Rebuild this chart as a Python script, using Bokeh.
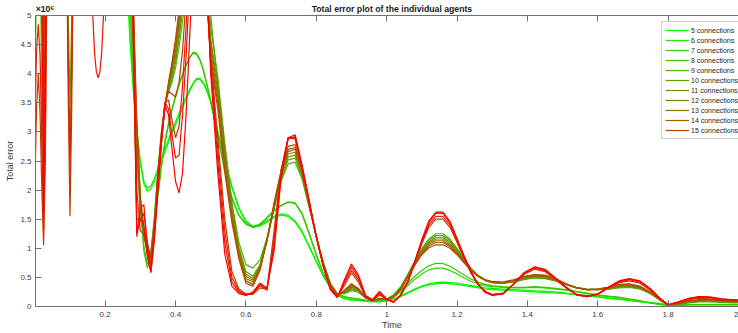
from bokeh.plotting import figure
from bokeh.models import Range1d, LinearAxis, FixedTicker
from bokeh.embed import file_html
from bokeh.resources import INLINE

# ---------------- data ----------------
time = [
    0.0, 0.005, 0.01, 0.015, 0.02, 0.025, 0.03, 0.035, 0.04,
    0.06, 0.08, 0.09, 0.095, 0.10, 0.105, 0.11, 0.12,
    0.16, 0.17, 0.175, 0.18, 0.185, 0.19, 0.20,
    0.24, 0.26, 0.27, 0.28, 0.29,
    0.30, 0.31, 0.32, 0.33, 0.34, 0.35, 0.36, 0.37, 0.38, 0.39, 0.40,
    0.41, 0.42, 0.43, 0.44, 0.45, 0.46, 0.47, 0.48, 0.49, 0.50,
    0.52, 0.54, 0.56, 0.58, 0.60, 0.62, 0.64, 0.66, 0.68, 0.70,
    0.72, 0.74, 0.76, 0.78, 0.80, 0.82, 0.84, 0.86, 0.88, 0.90,
    0.92, 0.94, 0.96, 0.98, 1.00, 1.02, 1.04, 1.06, 1.08, 1.10,
    1.12, 1.14, 1.16, 1.18, 1.20, 1.22, 1.24, 1.26, 1.28, 1.30,
    1.33, 1.36, 1.39, 1.42, 1.45, 1.48, 1.51, 1.54, 1.57, 1.60,
    1.63, 1.66, 1.69, 1.72, 1.75, 1.78,
    1.80, 1.83, 1.86, 1.89, 1.92, 1.95, 1.98, 2.00,
]

# total error (x 1e6) per number of connections
conn05 = [6.0, 8, 8, 8, 6.5, 3.5, 6.0, 8, 8,
          8, 8, 8, 8, 8, 8, 8, 8,
          8, 8, 8, 8, 8, 8, 8,
          8, 6.0, 4.6, 3.7, 3.0,
          2.45, 2.1, 1.98, 2.02, 2.15, 2.32, 2.5, 2.66, 2.82, 2.97, 3.12, 3.27, 3.42, 3.56, 3.7, 3.82, 3.9, 3.9, 3.82, 3.68, 3.5,
          3.0, 2.5, 2.05, 1.68, 1.45, 1.36, 1.38, 1.45, 1.53, 1.57, 1.55, 1.45, 1.27, 1.02, 0.77, 0.52, 0.32, 0.19, 0.13, 0.11,
          0.1, 0.09, 0.08, 0.08, 0.09, 0.12, 0.17, 0.23, 0.29, 0.34, 0.37, 0.39, 0.4, 0.39, 0.38, 0.36, 0.34, 0.32, 0.3, 0.29,
          0.28, 0.27, 0.26, 0.25, 0.24, 0.23, 0.22, 0.2, 0.18, 0.16, 0.14, 0.12, 0.1, 0.08, 0.06, 0.04,
          0.03, 0.03, 0.03, 0.03, 0.03, 0.03, 0.03, 0.03]
conn06 = [6.0, 8, 8, 8, 6.0, 3.2, 6.5, 8, 8,
          8, 8, 8, 8, 8, 8, 8, 8,
          8, 8, 8, 8, 8, 8, 8,
          8, 6.2, 4.7, 3.8, 3.05,
          2.5, 2.15, 2.03, 2.07, 2.2, 2.37, 2.55, 2.71, 2.87, 3.02, 3.17, 3.32, 3.47, 3.6, 3.73, 3.84, 3.92, 3.92, 3.84, 3.7, 3.52,
          3.02, 2.52, 2.07, 1.7, 1.47, 1.38, 1.4, 1.47, 1.55, 1.59, 1.57, 1.47, 1.29, 1.04, 0.78, 0.53, 0.33, 0.2, 0.14, 0.12,
          0.11, 0.1, 0.09, 0.09, 0.1, 0.13, 0.18, 0.24, 0.3, 0.35, 0.39, 0.41, 0.42, 0.41, 0.4, 0.38, 0.36, 0.34, 0.32, 0.31,
          0.3, 0.29, 0.28, 0.27, 0.26, 0.25, 0.23, 0.21, 0.19, 0.17, 0.15, 0.13, 0.11, 0.09, 0.07, 0.05,
          0.03, 0.03, 0.03, 0.03, 0.03, 0.03, 0.03, 0.03]
conn07 = [5.5, 8, 8, 8, 5.5, 2.6, 5.5, 8, 8,
          8, 8, 8, 8, 8, 8, 8, 8,
          8, 8, 8, 8, 8, 8, 8,
          8, 6.5, 5.3, 4.0, 2.8,
          1.8, 1.05, 0.72, 0.92, 1.42, 1.95, 2.45, 2.85, 3.15, 3.4, 3.62, 3.82, 4.0, 4.15, 4.28, 4.35, 4.33, 4.22, 4.03, 3.78, 3.52,
          2.92, 2.32, 1.86, 1.56, 1.41, 1.37, 1.42, 1.53, 1.65, 1.74, 1.79, 1.77, 1.58, 1.24, 0.88, 0.56, 0.33, 0.21, 0.16, 0.14,
          0.12, 0.1, 0.09, 0.09, 0.11, 0.16, 0.25, 0.36, 0.47, 0.56, 0.63, 0.66, 0.66, 0.62, 0.56, 0.49, 0.43, 0.39, 0.36, 0.34,
          0.33, 0.32, 0.32, 0.33, 0.32, 0.3, 0.28, 0.25, 0.22, 0.19, 0.17, 0.15, 0.12, 0.09, 0.06, 0.03,
          0.02, 0.02, 0.03, 0.03, 0.03, 0.03, 0.03, 0.03]
conn08 = [5.5, 8, 8, 8, 5.0, 2.2, 5.0, 8, 8,
          8, 8, 8, 8, 8, 8, 8, 8,
          8, 8, 8, 8, 8, 8, 8,
          8, 6.4, 5.2, 3.9, 2.7,
          1.7, 0.95, 0.66, 0.86, 1.36, 1.9, 2.4, 2.8, 3.12, 3.38, 3.6, 3.8, 3.98, 4.14, 4.27, 4.37, 4.35, 4.24, 4.05, 3.8, 3.54,
          2.95, 2.35, 1.88, 1.57, 1.42, 1.36, 1.4, 1.51, 1.64, 1.73, 1.8, 1.78, 1.6, 1.26, 0.9, 0.57, 0.34, 0.22, 0.17, 0.15,
          0.13, 0.11, 0.1, 0.1, 0.12, 0.18, 0.28, 0.4, 0.52, 0.62, 0.7, 0.74, 0.74, 0.69, 0.62, 0.54, 0.47, 0.42, 0.38, 0.36,
          0.34, 0.33, 0.33, 0.34, 0.33, 0.31, 0.29, 0.26, 0.23, 0.2, 0.18, 0.16, 0.13, 0.1, 0.06, 0.03,
          0.02, 0.02, 0.03, 0.03, 0.03, 0.03, 0.03, 0.03]
conn09 = [3.2, 6.0, 8, 7.0, 3.0, 1.75, 4.5, 8, 8,
          8, 8, 6.5, 4.2, 2.9, 4.0, 6.0, 8,
          8, 8, 8, 8, 8, 8, 8,
          8, 7.5, 6.0, 4.3, 2.6,
          1.6, 1.2, 0.95, 0.95, 1.55, 2.35, 3.0, 3.45, 3.68, 3.85, 4.1, 4.45, 4.9, 5.4, 6.0, 6.5, 6.8, 6.6, 6.2, 5.6, 5.0,
          3.8, 2.75, 1.8, 1.1, 0.72, 0.66, 0.8, 1.18, 1.68, 2.15, 2.45, 2.48, 2.18, 1.7, 1.2, 0.76, 0.4, 0.22, 0.22, 0.27,
          0.24, 0.15, 0.11, 0.12, 0.13, 0.2, 0.34, 0.55, 0.78, 1.0, 1.16, 1.25, 1.25, 1.16, 1.0, 0.82, 0.66, 0.54, 0.46, 0.42,
          0.4, 0.42, 0.46, 0.49, 0.48, 0.44, 0.38, 0.33, 0.3, 0.29, 0.3, 0.32, 0.33, 0.3, 0.22, 0.1,
          0.03, 0.03, 0.06, 0.08, 0.08, 0.07, 0.06, 0.06]
conn10 = [6.5, 8, 8, 8, 5.0, 2.4, 5.0, 8, 8,
          8, 8, 7.0, 5.0, 3.5, 5.0, 7.0, 8,
          8, 8, 8, 8, 8, 8, 8,
          8, 7.8, 6.2, 4.4, 2.7,
          1.65, 1.22, 0.98, 0.9, 1.5, 2.3, 2.95, 3.45, 3.72, 3.92, 4.2, 4.6, 5.1, 5.6, 6.2, 6.7, 7.0, 6.8, 6.2, 5.5, 4.8,
          3.95, 2.8, 1.78, 1.02, 0.6, 0.52, 0.72, 1.15, 1.68, 2.18, 2.52, 2.55, 2.22, 1.72, 1.2, 0.75, 0.4, 0.21, 0.23, 0.29,
          0.26, 0.15, 0.1, 0.12, 0.12, 0.19, 0.33, 0.54, 0.77, 0.98, 1.14, 1.22, 1.22, 1.14, 0.98, 0.8, 0.65, 0.53, 0.45, 0.41,
          0.4, 0.42, 0.47, 0.5, 0.49, 0.44, 0.38, 0.32, 0.29, 0.29, 0.3, 0.33, 0.34, 0.31, 0.22, 0.1,
          0.03, 0.04, 0.07, 0.09, 0.09, 0.08, 0.07, 0.07]
conn11 = [7.0, 8, 8, 8, 6.0, 2.8, 5.5, 8, 8,
          8, 8, 8, 8, 8, 8, 8, 8,
          8, 8, 8, 8, 8, 8, 8,
          8, 8, 6.4, 4.6, 2.8,
          1.7, 1.25, 1.0, 0.88, 1.45, 2.25, 2.92, 3.45, 3.75, 3.98, 4.28, 4.7, 5.2, 5.7, 6.3, 6.8, 7.0, 6.8, 6.2, 5.4, 4.6,
          3.8, 2.7, 1.7, 0.98, 0.56, 0.48, 0.7, 1.14, 1.7, 2.22, 2.57, 2.6, 2.25, 1.73, 1.2, 0.74, 0.39, 0.2, 0.24, 0.31,
          0.27, 0.15, 0.1, 0.12, 0.12, 0.18, 0.32, 0.53, 0.76, 0.96, 1.11, 1.19, 1.19, 1.11, 0.96, 0.79, 0.64, 0.52, 0.45, 0.41,
          0.4, 0.43, 0.48, 0.51, 0.5, 0.45, 0.38, 0.32, 0.29, 0.29, 0.31, 0.34, 0.35, 0.31, 0.23, 0.1,
          0.03, 0.04, 0.08, 0.1, 0.1, 0.09, 0.08, 0.08]
conn12 = [7.0, 8, 8, 8, 6.5, 3.0, 6.0, 8, 8,
          8, 8, 8, 8, 8, 8, 8, 8,
          8, 8, 8, 8, 8, 8, 8,
          8, 8, 6.6, 4.7, 2.9,
          1.75, 1.28, 1.02, 0.86, 1.4, 2.2, 2.9, 3.45, 3.78, 4.05, 4.35, 4.8, 5.3, 5.8, 6.4, 6.9, 7.1, 6.9, 6.2, 5.3, 4.5,
          3.7, 2.6, 1.62, 0.94, 0.52, 0.45, 0.68, 1.14, 1.72, 2.25, 2.62, 2.65, 2.28, 1.74, 1.2, 0.73, 0.38, 0.2, 0.25, 0.33,
          0.28, 0.15, 0.1, 0.13, 0.12, 0.18, 0.31, 0.52, 0.75, 0.95, 1.09, 1.16, 1.16, 1.08, 0.94, 0.78, 0.63, 0.52, 0.45, 0.41,
          0.4, 0.43, 0.49, 0.52, 0.51, 0.45, 0.38, 0.32, 0.29, 0.3, 0.32, 0.35, 0.36, 0.32, 0.23, 0.1,
          0.03, 0.05, 0.08, 0.1, 0.1, 0.09, 0.08, 0.08]
conn13 = [7.5, 8, 8, 8, 7.0, 3.4, 6.5, 8, 8,
          8, 8, 8, 8, 8, 8, 8, 8,
          8, 8, 8, 8, 8, 8, 8,
          8, 8, 6.8, 4.8, 3.0,
          1.8, 1.3, 1.04, 0.85, 1.35, 2.15, 2.88, 3.45, 3.8, 4.1, 4.42, 4.9, 5.4, 5.9, 6.5, 7.0, 7.2, 7.0, 6.3, 5.3, 4.4,
          3.6, 2.5, 1.56, 0.9, 0.48, 0.42, 0.66, 1.14, 1.74, 2.28, 2.66, 2.7, 2.3, 1.75, 1.2, 0.72, 0.37, 0.2, 0.26, 0.35,
          0.29, 0.15, 0.1, 0.13, 0.12, 0.17, 0.3, 0.51, 0.74, 0.93, 1.07, 1.13, 1.13, 1.05, 0.92, 0.77, 0.63, 0.52, 0.45, 0.42,
          0.41, 0.44, 0.5, 0.53, 0.52, 0.46, 0.38, 0.32, 0.29, 0.3, 0.32, 0.36, 0.37, 0.33, 0.24, 0.1,
          0.03, 0.05, 0.09, 0.11, 0.11, 0.1, 0.09, 0.08]
conn14 = [8, 8, 8, 8, 7.5, 3.8, 7.0, 8, 8,
          8, 8, 8, 8, 8, 8, 8, 8,
          8, 8, 8, 8, 8, 8, 8,
          8, 8, 7.0, 5.0, 3.1,
          1.85, 1.32, 1.06, 0.84, 1.3, 2.1, 2.85, 3.45, 3.82, 4.15, 4.5, 5.0, 5.5, 6.0, 6.6, 7.1, 7.3, 7.1, 6.3, 5.2, 4.3,
          3.5, 2.4, 1.5, 0.86, 0.44, 0.38, 0.64, 1.14, 1.76, 2.3, 2.7, 2.73, 2.32, 1.76, 1.2, 0.71, 0.36, 0.19, 0.27, 0.37,
          0.3, 0.15, 0.1, 0.14, 0.12, 0.17, 0.3, 0.5, 0.72, 0.91, 1.04, 1.1, 1.1, 1.03, 0.91, 0.76, 0.62, 0.52, 0.46, 0.42,
          0.41, 0.45, 0.51, 0.54, 0.53, 0.47, 0.39, 0.32, 0.29, 0.3, 0.33, 0.37, 0.38, 0.34, 0.24, 0.11,
          0.03, 0.05, 0.09, 0.11, 0.11, 0.1, 0.09, 0.09]
conn15 = [8, 8, 8, 8, 8, 4.2, 7.5, 8, 8,
          8, 8, 8, 8, 8, 8, 8, 8,
          8, 8, 8, 8, 8, 8, 8,
          8, 8, 7.2, 5.2, 3.2,
          1.9, 1.35, 1.08, 0.82, 1.25, 2.05, 2.82, 3.45, 3.85, 4.2, 4.6, 5.1, 5.6, 6.1, 6.7, 7.2, 7.4, 7.2, 6.4, 5.2, 4.2,
          3.4, 2.3, 1.45, 0.82, 0.4, 0.35, 0.62, 1.14, 1.78, 2.34, 2.75, 2.78, 2.35, 1.78, 1.2, 0.7, 0.35, 0.19, 0.28, 0.39,
          0.31, 0.15, 0.1, 0.14, 0.12, 0.16, 0.29, 0.49, 0.71, 0.89, 1.01, 1.06, 1.06, 1.0, 0.89, 0.75, 0.62, 0.52, 0.46, 0.43,
          0.42, 0.46, 0.52, 0.55, 0.54, 0.48, 0.39, 0.32, 0.29, 0.3, 0.33, 0.38, 0.39, 0.35, 0.25, 0.11,
          0.03, 0.06, 0.1, 0.12, 0.12, 0.11, 0.1, 0.09]
conn16 = [2.05, 3.4, 4.0, 3.3, 2.0, 1.05, 2.5, 6.0, 8,
          8, 8, 6.5, 3.6, 1.55, 3.4, 6.5, 8,
          8, 8, 8, 8, 8, 8, 8,
          8, 8, 8, 5.5, 2.0,
          1.3, 1.25, 0.9, 0.75, 1.4, 2.3, 3.0, 3.5, 3.7, 3.65, 3.6, 3.85, 4.4, 5.3, 6.3, 7.0, 7.3, 7.0, 6.3, 5.2, 4.3,
          2.9, 1.5, 0.6, 0.3, 0.22, 0.21, 0.32, 0.3, 1.3, 2.35, 2.9, 2.88, 2.35, 1.75, 1.2, 0.7, 0.32, 0.17, 0.36, 0.58,
          0.42, 0.16, 0.1, 0.2, 0.12, 0.08, 0.2, 0.42, 0.75, 1.08, 1.36, 1.5, 1.5, 1.36, 1.1, 0.82, 0.57, 0.38, 0.26, 0.21,
          0.23, 0.38, 0.55, 0.64, 0.6, 0.46, 0.32, 0.21, 0.18, 0.22, 0.32, 0.41, 0.44, 0.4, 0.28, 0.12,
          0.03, 0.07, 0.12, 0.14, 0.13, 0.11, 0.1, 0.1]
conn17 = [3.0, 4.4, 4.85, 4.3, 2.8, 1.3, 3.0, 7.0, 8,
          8, 8, 7.0, 4.2, 2.3, 4.2, 7.0, 8,
          8, 8, 8, 8, 8, 8, 8,
          8, 8, 8, 4.8, 1.5,
          1.5, 1.6, 1.1, 0.65, 1.3, 2.2, 2.9, 3.5, 3.55, 3.2, 2.9, 3.1, 3.8, 4.8, 6.0, 7.0, 7.4, 7.2, 6.5, 5.3, 4.2,
          2.7, 1.3, 0.5, 0.27, 0.2, 0.22, 0.36, 0.28, 1.15, 2.3, 2.9, 2.9, 2.37, 1.77, 1.2, 0.7, 0.31, 0.16, 0.4, 0.62,
          0.46, 0.17, 0.1, 0.22, 0.12, 0.08, 0.2, 0.42, 0.76, 1.1, 1.4, 1.55, 1.55, 1.4, 1.13, 0.84, 0.58, 0.38, 0.25, 0.2,
          0.22, 0.38, 0.56, 0.66, 0.62, 0.47, 0.32, 0.2, 0.17, 0.21, 0.32, 0.42, 0.46, 0.42, 0.29, 0.12,
          0.03, 0.07, 0.13, 0.16, 0.15, 0.12, 0.11, 0.11]
conn18 = [6.0, 8, 8, 8, 6.0, 2.0, 5.0, 8, 8,
          8, 8, 8, 8, 8, 8, 8, 8,
          5.6, 4.35, 4.03, 3.93, 4.03, 4.35, 5.6,
          8, 8, 8, 4.5, 1.2,
          1.7, 1.75, 1.0, 0.6, 1.2, 2.1, 2.9, 3.5, 3.4, 2.95, 2.55, 2.6, 3.3, 4.3, 5.5, 6.7, 7.3, 7.2, 6.6, 5.4, 4.1,
          2.5, 1.1, 0.42, 0.25, 0.2, 0.24, 0.38, 0.3, 1.05, 2.25, 2.88, 2.92, 2.4, 1.8, 1.2, 0.69, 0.3, 0.16, 0.44, 0.68,
          0.5, 0.18, 0.11, 0.24, 0.13, 0.08, 0.2, 0.42, 0.77, 1.12, 1.44, 1.6, 1.6, 1.44, 1.16, 0.86, 0.59, 0.38, 0.25, 0.2,
          0.22, 0.38, 0.57, 0.67, 0.63, 0.48, 0.33, 0.2, 0.17, 0.21, 0.33, 0.43, 0.47, 0.43, 0.3, 0.12,
          0.03, 0.08, 0.14, 0.17, 0.16, 0.13, 0.11, 0.11]
conn19 = [6.5, 8, 8, 8, 7.0, 1.6, 4.0, 8, 8,
          8, 8, 8, 8, 8, 8, 8, 8,
          8, 8, 8, 8, 8, 8, 8,
          8, 8, 8, 5.0, 1.25,
          1.5, 1.4, 0.85, 0.58, 1.15, 2.0, 2.8, 3.45, 3.3, 2.7, 2.15, 1.95, 2.3, 3.3, 4.6, 6.0, 7.0, 7.2, 6.7, 5.5, 4.0,
          2.3, 0.9, 0.35, 0.22, 0.19, 0.25, 0.4, 0.32, 0.95, 2.2, 2.9, 2.95, 2.42, 1.82, 1.2, 0.68, 0.29, 0.15, 0.46, 0.73,
          0.54, 0.19, 0.12, 0.26, 0.13, 0.07, 0.19, 0.42, 0.78, 1.15, 1.47, 1.62, 1.62, 1.46, 1.17, 0.87, 0.6, 0.38, 0.24, 0.19,
          0.21, 0.38, 0.58, 0.68, 0.64, 0.49, 0.33, 0.2, 0.17, 0.21, 0.33, 0.44, 0.48, 0.44, 0.3, 0.12,
          0.03, 0.08, 0.14, 0.17, 0.16, 0.13, 0.12, 0.11]

connections = [5, 6, 7, 8, 9, 10, 11, 12, 13, 14, 15, 16, 17, 18, 19]
series = [conn05, conn06, conn07, conn08, conn09, conn10, conn11, conn12,
          conn13, conn14, conn15, conn16, conn17, conn18, conn19]
legend_count = 11  # only 5..15 connections appear in the legend

x_ticks = [0.2, 0.4, 0.6, 0.8, 1.0, 1.2, 1.4, 1.6, 1.8, 2.0]
x_tick_labels = ["0.2", "0.4", "0.6", "0.8", "1", "1.2", "1.4", "1.6", "1.8", "2"]
y_ticks = [0, 0.5, 1, 1.5, 2, 2.5, 3, 3.5, 4, 4.5, 5]
y_tick_labels = ["0", "0.5", "1", "1.5", "2", "2.5", "3", "3.5", "4", "4.5", "5"]

title_text = "Total error plot of the individual agents"
exponent_text = "\u00d710\u2076"
x_label = "Time"
y_label = "Total error"

for name, s in zip(connections, series):
    if len(s) != len(time):
        raise ValueError(f"series {name}: {len(s)} values vs {len(time)} times")

# ---------------- figure ----------------
FONT = "Liberation Sans"
AXIS_COL = "#707070"
TEXT_COL = "#404040"

p = figure(width=738, height=333,
           x_range=Range1d(0.002, 2.0), y_range=Range1d(0, 5),
           output_backend="svg", toolbar_location=None,
           min_border_left=35, min_border_right=0,
           min_border_top=15, min_border_bottom=27)
p.outline_line_color = None
p.xgrid.visible = False
p.ygrid.visible = False
p.background_fill_color = "white"
p.border_fill_color = "white"

n = len(series)
colors = []
for i in range(n):
    f = i / (n - 1)
    colors.append("#%02x%02x%02x" % (round(255 * f), round(255 * (1 - f)), 0))

for i, (c, ys) in enumerate(zip(connections, series)):
    kw = dict(line_color=colors[i], line_width=1.2)
    if i < legend_count:
        kw["legend_label"] = f"{c} connections"
    p.line(time, ys, **kw)

# bottom / left axes
xa = p.xaxis[0]
xa.ticker = FixedTicker(ticks=x_ticks)
xa.major_label_overrides = {t: l for t, l in zip(x_ticks, x_tick_labels)}
ya = p.yaxis[0]
ya.ticker = FixedTicker(ticks=y_ticks)
ya.major_label_overrides = {t: l for t, l in zip(y_ticks, y_tick_labels)}
for ax in (xa, ya):
    ax.axis_line_color = AXIS_COL
    ax.major_tick_line_color = AXIS_COL
    ax.minor_tick_line_color = None
    ax.major_tick_out = 0
    ax.major_tick_in = 6
    ax.major_label_text_font = FONT
    ax.major_label_text_font_size = "8px"
    ax.major_label_text_color = TEXT_COL
ya.major_label_standoff = 4
xa.major_label_standoff = 5
ya.axis_label = y_label
ya.axis_label_standoff = 2
ya.axis_label_text_font = FONT
ya.axis_label_text_font_size = "9px"
ya.axis_label_text_font_style = "normal"
ya.axis_label_text_color = TEXT_COL

# top box edge: inward tick marks (as minor ticks) + title and exponent as labels
TITLE_X = 1.015
EXP_X = 0.029
top = LinearAxis(ticker=FixedTicker(ticks=[EXP_X, TITLE_X], minor_ticks=x_ticks))
top.major_label_overrides = {EXP_X: exponent_text, TITLE_X: title_text}
top.axis_line_color = AXIS_COL
top.major_tick_line_color = None
top.minor_tick_line_color = AXIS_COL
top.minor_tick_in = 6
top.minor_tick_out = 0
top.major_tick_in = 0
top.major_tick_out = 0
top.major_label_standoff = 2
top.major_label_text_font = FONT
top.major_label_text_font_size = "8.7px"
top.major_label_text_font_style = "bold"
top.major_label_text_color = "#1a1a1a"
p.add_layout(top, "above")

# x label, centred like the reference
xl = LinearAxis(ticker=FixedTicker(ticks=[TITLE_X], minor_ticks=[]))
xl.major_label_overrides = {TITLE_X: x_label}
xl.axis_line_color = None
xl.major_tick_line_color = None
xl.minor_tick_line_color = None
xl.major_tick_in = 0
xl.major_tick_out = 0
xl.major_label_standoff = 0
xl.major_label_text_font = FONT
xl.major_label_text_font_size = "9px"
xl.major_label_text_color = TEXT_COL
p.add_layout(xl, "below")

# legend
lg = p.legend[0]
lg.location = (626, 167)
lg.padding = 3
lg.spacing = 0
lg.margin = 0
lg.glyph_height = 10
lg.glyph_width = 24
lg.label_height = 10
lg.label_standoff = 2
lg.label_text_font = FONT
lg.label_text_font_size = "7px"
lg.label_text_color = "#262626"
lg.border_line_color = "#9a9a9a"
lg.border_line_width = 1
lg.background_fill_color = "white"
lg.background_fill_alpha = 1.0

open("out.html", "w").write(file_html(p, INLINE))
